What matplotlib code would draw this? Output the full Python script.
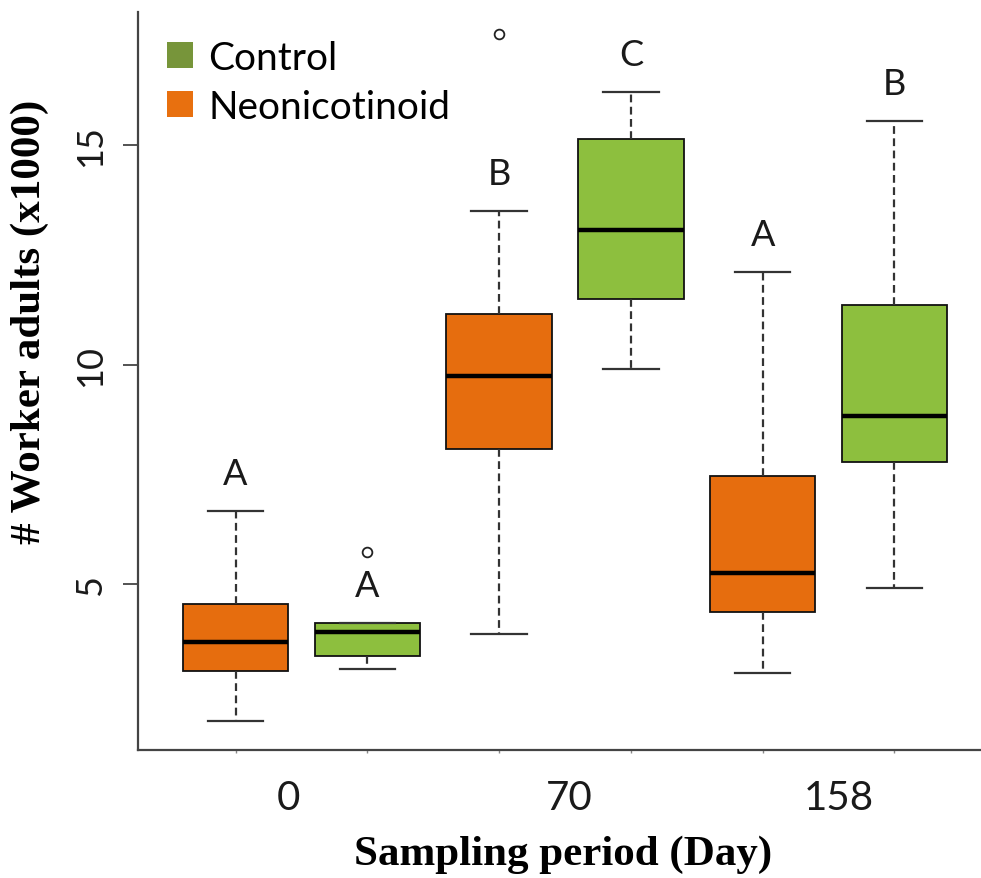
import numpy as np
import matplotlib
matplotlib.use("Agg")
import matplotlib.pyplot as plt
from matplotlib.patches import Patch

# Данные с картинки (тыс. рабочих особей)
periods = ["0", "70", "158"]
period_pos = [1.4, 3.53, 5.58]

groups = ["Neonicotinoid", "Control", "Neonicotinoid", "Control", "Neonicotinoid", "Control"]
whislo = [1.89, 3.06, 3.86, 9.90, 2.97, 4.90]
q1 = [3.03, 3.37, 8.08, 11.49, 4.37, 7.79]
med = [3.69, 3.90, 9.75, 13.07, 5.25, 8.83]
q3 = [4.54, 4.11, 11.14, 15.14, 7.47, 11.36]
whishi = [6.66, 4.11, 13.50, 16.21, 12.11, 15.55]
fliers = [[], [5.72], [17.53], [], [], []]
letters = ["A", "A", "B", "C", "A", "B"]

box_colors = {"Control": "#8dbf3e", "Neonicotinoid": "#e66d0e"}
legend_colors = {"Control": "#77953a", "Neonicotinoid": "#e8700f"}

sans = "Lato"
serif = "Liberation Serif"

fig = plt.figure(figsize=(9.81, 8.79), dpi=100)
ax = fig.add_axes([138 / 981, 128 / 879, 854 / 981, 738 / 879])

stats = []
for i in range(len(med)):
    stats.append({"whislo": whislo[i], "q1": q1[i], "med": med[i],
                  "q3": q3[i], "whishi": whishi[i], "fliers": fliers[i]})

positions = np.arange(1, len(med) + 1)
bp = ax.bxp(stats, positions=positions, widths=0.8, patch_artist=True,
            showfliers=True,
            boxprops=dict(edgecolor="#111111", linewidth=1.3),
            medianprops=dict(color="black", linewidth=3.2, solid_capstyle="butt"),
            whiskerprops=dict(color="#333333", linewidth=1.6, linestyle=(0, (3.5, 2))),
            capprops=dict(color="#333333", linewidth=1.6),
            capwidths=0.42,
            flierprops=dict(marker="o", markerfacecolor="white",
                            markeredgecolor="#222222", markersize=7, markeredgewidth=1.3))
for patch, g in zip(bp["boxes"], groups):
    patch.set_facecolor(box_colors[g])

# буквы над усами
for p, hi, lab in zip(positions, whishi, letters):
    ax.text(p, hi + 0.85, lab, ha="center", va="center", fontsize=26,
            family=sans, color="#1a1a1a")

ax.set_xlim(0.26, 6.74)
ax.set_ylim(1.22, 18.03)

for s in ["top", "right"]:
    ax.spines[s].set_visible(False)
for s in ["left", "bottom"]:
    ax.spines[s].set_color("#444444")
    ax.spines[s].set_linewidth(1.6)

ax.set_yticks([5, 10, 15])
ax.set_yticklabels(["5", "10", "15"], rotation=90, va="center",
                   fontsize=26, family=sans, color="#1a1a1a")
ax.tick_params(axis="y", length=11, width=1.3, color="#444444", pad=11)

ax.set_xticks(period_pos)
ax.set_xticklabels(periods, fontsize=29, family=sans, color="#1a1a1a")
ax.set_xticks(positions, minor=True)
ax.tick_params(axis="x", which="major", length=0, pad=21)
ax.tick_params(axis="x", which="minor", length=2, width=1, color="#888888")

fig.text(563 / 981, 1 - 855 / 879, "Sampling period (Day)", ha="center", va="center",
         fontsize=31, family=serif, fontweight="bold")
fig.text(30 / 981, 1 - 322 / 879, "# Worker adults (x1000)", ha="center", va="center",
         rotation=90, fontsize=31, family=serif, fontweight="bold")

handles = [Patch(facecolor=legend_colors[g], edgecolor="none") for g in ["Control", "Neonicotinoid"]]
ax.legend(handles, ["Control", "Neonicotinoid"], loc="upper left",
          bbox_to_anchor=(167 / 981, 1 - 41 / 879), bbox_transform=fig.transFigure,
          frameon=False, borderpad=0, borderaxespad=0,
          handlelength=0.66, handleheight=0.66, handletextpad=0.4,
          labelspacing=0.33, prop={"family": sans, "size": 28})

fig.savefig("out.png", dpi=100)
